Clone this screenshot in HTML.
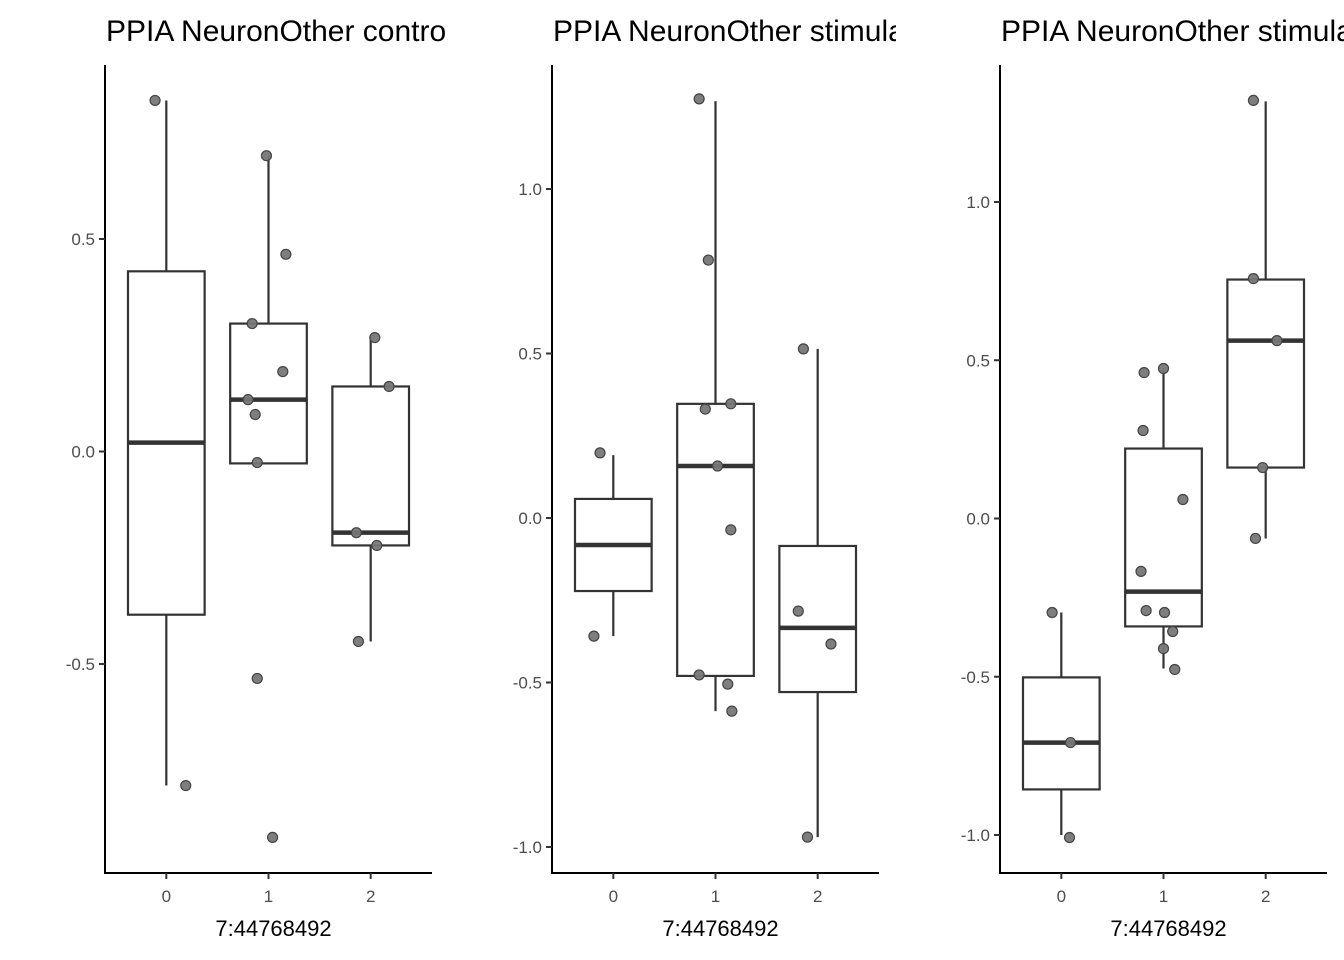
<!DOCTYPE html>
<html><head><meta charset="utf-8">
<style>
html,body{margin:0;padding:0;background:#fff;}
svg{display:block;font-family:"Liberation Sans",sans-serif;}
</style></head>
<body>
<svg id="chart" width="1344" height="960" xmlns="http://www.w3.org/2000/svg"></svg>
<script>
const titles = ["PPIA NeuronOther control", "PPIA NeuronOther stimulated", "PPIA NeuronOther stimulated"];
const categories = ["0", "1", "2"];
const yTicks = [[0.5, 0.0, -0.5], [1.0, 0.5, 0.0, -0.5, -1.0], [1.0, 0.5, 0.0, -0.5, -1.0]];
const yTickLabels = [["0.5", "0.0", "-0.5"], ["1.0", "0.5", "0.0", "-0.5", "-1.0"], ["1.0", "0.5", "0.0", "-0.5", "-1.0"]];
// per panel: per category [lowerWhisker, Q1, median, Q3, upperWhisker]
const boxStats1 = [[-0.786, -0.384, 0.021, 0.424, 0.826], [-0.028, -0.028, 0.122, 0.301, 0.696], [-0.447, -0.221, -0.191, 0.153, 0.268]];
const boxStats2 = [[-0.359, -0.222, -0.082, 0.058, 0.191], [-0.587, -0.480, 0.158, 0.347, 1.267], [-0.970, -0.529, -0.334, -0.085, 0.514]];
const boxStats3 = [[-1.0, -0.856, -0.708, -0.502, -0.297], [-0.474, -0.341, -0.231, 0.221, 0.474], [-0.063, 0.161, 0.562, 0.755, 1.318]];
// points: [category + jitter, value]
const points1 = [[-0.11,0.826],[0.19,-0.786],[0.98,0.696],[1.17,0.464],[0.84,0.301],[1.14,0.188],[0.80,0.122],[0.87,0.087],[0.89,-0.026],[0.89,-0.534],[1.04,-0.908],[2.04,0.268],[2.18,0.153],[1.86,-0.191],[2.06,-0.221],[1.88,-0.447]];
const points2 = [[-0.13,0.198],[-0.19,-0.359],[0.84,1.274],[0.93,0.784],[0.90,0.331],[1.15,0.347],[1.02,0.158],[1.15,-0.036],[0.84,-0.477],[1.12,-0.505],[1.16,-0.587],[1.86,0.514],[1.81,-0.283],[2.13,-0.383],[1.90,-0.970]];
const points3 = [[-0.09,-0.297],[0.09,-0.708],[0.08,-1.008],[0.81,0.461],[1.00,0.474],[0.80,0.278],[1.19,0.060],[0.78,-0.167],[0.83,-0.291],[1.01,-0.297],[1.09,-0.357],[1.00,-0.411],[1.11,-0.477],[1.88,1.321],[1.88,0.758],[2.11,0.562],[1.97,0.161],[1.90,-0.063]];
const allBoxes = [boxStats1, boxStats2, boxStats3];
const allPoints = [points1, points2, points3];
const yCal = [[0.5,239,-0.5,664],[1.0,189,-1.0,847],[1.0,202,-1.0,835]];
const panelX = [105, 552, 1000];

const NS = "http://www.w3.org/2000/svg";
const svgEl = document.getElementById('chart');
function mk(tag, attrs, parent){const e=document.createElementNS(NS,tag);for(const k in attrs)e.setAttribute(k,attrs[k]);(parent||svgEl).appendChild(e);return e;}
const defs = mk('defs',{});
for(let p=0;p<3;p++){
  const cp = mk('clipPath',{id:'clip'+p},defs);
  mk('rect',{x:448*p,y:0,width:448,height:960},cp);
}
const axW = 327, plotTop = 65, plotBottom = 873;
for(let p=0;p<3;p++){
  const x0 = panelX[p];
  const c = yCal[p];
  const ys = v => c[1] + (v - c[0]) * (c[3]-c[1])/(c[2]-c[0]);
  const xs = v => x0 + (v + 0.6) * axW/3.2;
  const g = mk('g',{'clip-path':'url(#clip'+p+')'});
  
  
  const t = mk('text',{x:x0+1,y:41,'font-size':30,fill:'#000'},g);
  
  
  t.textContent = titles[p];
  allBoxes[p].forEach((b,i)=>{
    const cx = xs(i), hw = 0.375*axW/3.2;
    const bg = mk('g',{},g);
    
    
    mk('line',{x1:cx,x2:cx,y1:ys(b[4]),y2:ys(b[3]),stroke:'#333','stroke-width':2.2},bg);
    mk('line',{x1:cx,x2:cx,y1:ys(b[1]),y2:ys(b[0]),stroke:'#333','stroke-width':2.2},bg);
    mk('rect',{x:cx-hw,y:ys(b[3]),width:2*hw,height:ys(b[1])-ys(b[3]),fill:'#fff',stroke:'#333','stroke-width':2.2},bg);
    mk('line',{x1:cx-hw,x2:cx+hw,y1:ys(b[2]),y2:ys(b[2]),stroke:'#333','stroke-width':4.5},bg);
  });
  allPoints[p].forEach(pt=>{
    const e = mk('circle',{cx:xs(pt[0]),cy:ys(pt[1]),r:5,fill:'#777','fill-opacity':0.95,stroke:'#444','stroke-width':1.2},g);
    
    
  });
  const ya = mk('line',{x1:x0,x2:x0,y1:plotTop,y2:plotBottom+1,stroke:'#000','stroke-width':2},g);
  
  
  const xa = mk('line',{x1:x0-1,x2:x0+axW,y1:plotBottom,y2:plotBottom,stroke:'#000','stroke-width':2},g);
  
  
  yTicks[p].forEach((v,i)=>{
    mk('line',{x1:x0-6,x2:x0,y1:ys(v),y2:ys(v),stroke:'#333','stroke-width':2},g);
    const l = mk('text',{x:x0-10,y:ys(v)+6,'font-size':17,fill:'#4d4d4d','text-anchor':'end'},g);
    
    
    l.textContent = yTickLabels[p][i];
  });
  categories.forEach((cat,i)=>{
    mk('line',{x1:xs(i),x2:xs(i),y1:plotBottom,y2:plotBottom+6,stroke:'#333','stroke-width':2},g);
    const l = mk('text',{x:xs(i),y:902,'font-size':17,fill:'#4d4d4d','text-anchor':'middle'},g);
    
    
    l.textContent = cat;
  });
  const xt = mk('text',{x:x0+axW/2+5,y:936,'font-size':22,fill:'#000','text-anchor':'middle'},g);
  
  
  xt.textContent = '7:44768492';
}
</script>
</body></html>
